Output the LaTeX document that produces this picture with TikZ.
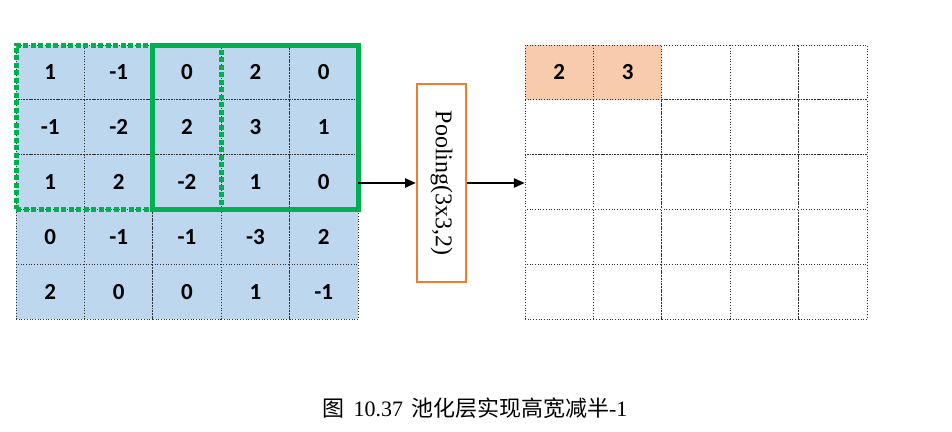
\documentclass[tikz,border=0pt]{standalone}
\usepackage{fontspec}
\setmainfont{Liberation Serif}
\newfontfamily\cellfont{Carlito}
\newfontfamily\cjk{Noto Sans CJK SC}
\newcommand\cellnum[1]{{\cellfont\bfseries\fontsize{23}{23}\selectfont #1}}
\usetikzlibrary{arrows.meta,fit}
\definecolor{cellblue}{RGB}{189,215,238}
\definecolor{cellorange}{RGB}{248,203,173}
\definecolor{wingreen}{RGB}{0,176,80}
\definecolor{boxorange}{RGB}{237,125,49}
\tikzset{
  cellbox/.style={draw=black!80, dotted, line width=0.7pt, minimum width=68.4pt, minimum height=54.8pt,
    inner sep=0pt, outer sep=0pt},
  bluecell/.style={cellbox, fill=cellblue},
  orangecell/.style={cellbox, fill=cellorange},
  whitecell/.style={cellbox, fill=white},
  solidwin/.style={draw=wingreen, line width=5pt, inner sep=0pt},
  dotwin/.style={draw=wingreen, line width=5pt, dash pattern=on 5pt off 2.5pt, inner sep=0pt},
  poolbox/.style={draw=boxorange, line width=2pt, fill=white, minimum width=49pt, minimum height=198pt, inner sep=0pt},
  flow/.style={draw=black, line width=2.4pt, -{Triangle[length=11pt,width=9pt]}},
}
\begin{document}
\begin{tikzpicture}[x=1pt,y=-1pt]
\useasboundingbox (0,0) rectangle (952,431);
% left grid
\foreach \row/\vals in {1/{1,-1,0,2,0},2/{-1,-2,2,3,1},3/{1,2,-2,1,0},4/{0,-1,-1,-3,2},5/{2,0,0,1,-1}}{
  \foreach \v [count=\c] in \vals {
    \node[bluecell] (L-\row-\c) at ({16+68.4*(\c-0.5)},{45+54.8*(\row-0.5)}) {\cellnum{\v}};
  }
}
% right grid
\foreach \row in {1,...,5}{
  \foreach \c in {1,...,5}{
    \node[whitecell] (R-\row-\c) at ({525+68.4*(\c-0.5)},{45+54.8*(\row-0.5)}) {};
  }
}
\node[orangecell] (R-1-1) at ({525+68.4*0.5},{45+54.8*0.5}) {\cellnum{2}};
\node[orangecell] (R-1-2) at ({525+68.4*1.5},{45+54.8*0.5}) {\cellnum{3}};
% frames
\node[fit=(L-1-1)(L-5-5), inner sep=0pt] (leftgrid) {};
\node[fit=(R-1-1)(R-5-5), inner sep=0pt] (rightgrid) {};
\node[dotwin, fit=(L-1-1)(L-3-3)] (win1) {};
\node[solidwin, fit=(L-1-3)(L-3-5)] (win2) {};
% pooling
\node[poolbox] (pool) at (441.5,183) {};
\node[rotate=-90, font=\fontsize{24}{24}\selectfont] (pooltext) at (pool.center) {Pooling(3x3,2)};
\draw[flow] (leftgrid.east |- pool.west) -- (pool.west);
\draw[flow] (pool.east) -- (rightgrid.west |- pool.east);
% caption
\node[font=\fontsize{22}{22}\selectfont, inner sep=0pt] (caption) at (475,408)
  {{\cjk 图}\hspace{9pt}10.37\hspace{8pt}{\cjk 池化层实现高宽减半}-1};
\end{tikzpicture}
\end{document}
